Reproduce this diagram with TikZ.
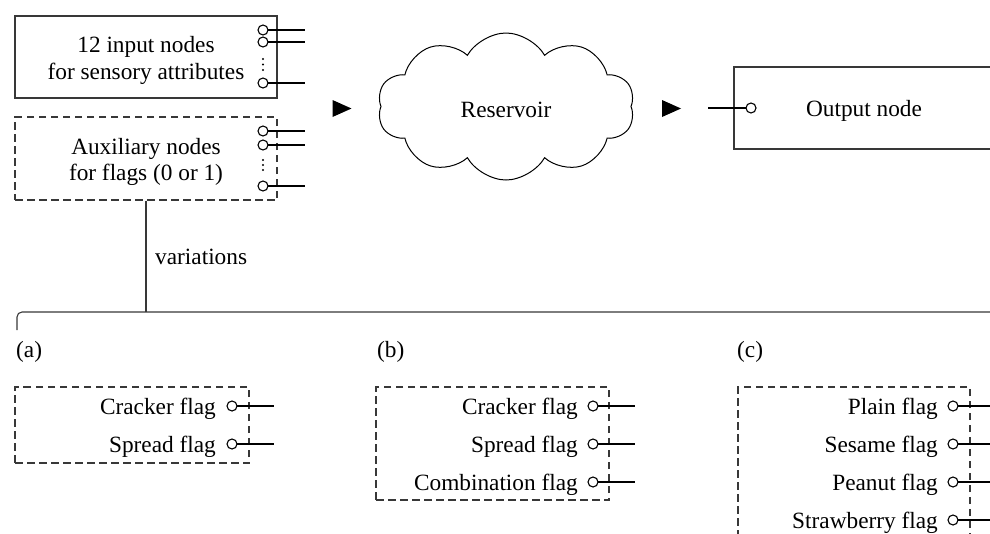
\documentclass[tikz,border=0pt]{standalone}
\usepackage{fontspec}
\setmainfont{Liberation Serif}
\usetikzlibrary{shapes.symbols}
\begin{document}
\begin{tikzpicture}[x=1pt,y=-1pt,
  txt/.style={font=\fontsize{23.3}{26.5}\selectfont, inner sep=0pt},
  frame/.style={draw=black!78, line width=1.1pt},
  dframe/.style={frame, dash pattern=on 7.5pt off 4.5pt},
  port/.style={circle, draw=black, line width=1.1pt, fill=white, inner sep=0pt, minimum size=10pt},
  wire/.style={black, line width=1.8pt},
  vdot/.style={circle, fill=black, inner sep=0pt, minimum size=2.2pt},
  plainbox/.style={frame, inner sep=0pt},
]
\clip (0,0) rectangle (990,533);

% ---- input attributes block ----
\node[plainbox, minimum width=262pt, minimum height=82pt] (inbox) at (146,57) {};
\node[txt, align=center] (intxt) at (146,60.5) {12 input nodes\\for sensory attributes};
\foreach \n/\y in {1/30,2/42,3/83} {
  \coordinate (ie\n) at (305,\y);
  \draw[wire] (263,\y) -- (ie\n);
  \node[port] (ip\n) at (263,\y) {};
}
\foreach \n/\y in {1/59,2/64.5,3/70} \node[vdot] (idot\n) at (263,\y) {};

% ---- auxiliary flag block ----
\node[plainbox, dframe, minimum width=262pt, minimum height=83pt] (auxbox) at (146,158.5) {};
\node[txt, align=center] (auxtxt) at (146,162) {Auxiliary nodes\\for flags (0 or 1)};
\foreach \n/\y in {1/131,2/145,3/186} {
  \coordinate (ae\n) at (305,\y);
  \draw[wire] (263,\y) -- (ae\n);
  \node[port] (ap\n) at (263,\y) {};
}
\foreach \n/\y in {1/160,2/165,3/170} \node[vdot] (adot\n) at (263,\y) {};

% ---- flow markers ----
\coordinate (flowA) at (342,108.5);
\coordinate (flowB) at (671.5,108.5);
\foreach \c in {flowA,flowB}
  \fill (\c) +(-9.5,-8.5) -- +(9.5,0) -- +(-9.5,8.5) -- cycle;

% ---- reservoir ----
\node[cloud, draw=black, line width=1pt, cloud puffs=10, cloud puff arc=120, aspect=1.75,
      minimum width=257pt, minimum height=147pt, inner sep=0pt] (res) at (506,106.5) {};
\node[txt, anchor=base] (restxt) at (506,117) {Reservoir};

% ---- output ----
\node[plainbox, minimum width=262pt, minimum height=82pt] (outbox) at (865,108) {};
\node[txt, anchor=base] (outtxt) at (864,116) {Output node};
\coordinate (oin) at (708,108);
\draw[wire] (oin) -- (751,108);
\node[port] (op) at (751,108) {};

% ---- variation tree ----
\coordinate (split) at (146,312);
\coordinate (tleft) at (17,330);
\coordinate (tend) at (995,312);
\draw[frame] (auxbox.south) -- (split);
\draw[frame, rounded corners=5pt] (tleft) |- (tend);
\node[txt, anchor=base west] (var) at (155,264) {variations};

\node[txt, anchor=base west] (laba) at (16,357) {(a)};
\node[txt, anchor=base west] (labb) at (377,357) {(b)};
\node[txt, anchor=base west] (labc) at (737,357) {(c)};

% (a)
\node[plainbox, dframe, minimum width=234pt, minimum height=76pt] (boxa) at (132,425) {};
\foreach \n/\t/\y in {1/Cracker flag/406, 2/Spread flag/444} {
  \coordinate (fae\n) at (274,\y);
  \draw[wire] (232,\y) -- (fae\n);
  \node[port] (fap\n) at (232,\y) {};
  \node[txt, anchor=base east] (fat\n) at (216,\y+8) {\t};
}

% (b)
\node[plainbox, dframe, minimum width=233pt, minimum height=113pt] (boxb) at (492.5,443.5) {};
\foreach \n/\t/\y in {1/Cracker flag/406, 2/Spread flag/444, 3/Combination flag/482} {
  \coordinate (fbe\n) at (635,\y);
  \draw[wire] (593,\y) -- (fbe\n);
  \node[port] (fbp\n) at (593,\y) {};
  \node[txt, anchor=base east] (fbt\n) at (578,\y+8) {\t};
}

% (c)
\node[plainbox, dframe, minimum width=232pt, minimum height=173pt] (boxc) at (854,473.5) {};
\foreach \n/\t/\y in {1/Plain flag/406, 2/Sesame flag/444, 3/Peanut flag/482, 4/Strawberry flag/520} {
  \coordinate (fce\n) at (995,\y);
  \draw[wire] (953,\y) -- (fce\n);
  \node[port] (fcp\n) at (953,\y) {};
  \node[txt, anchor=base east] (fct\n) at (938,\y+8) {\t};
}
\end{tikzpicture}
\end{document}
